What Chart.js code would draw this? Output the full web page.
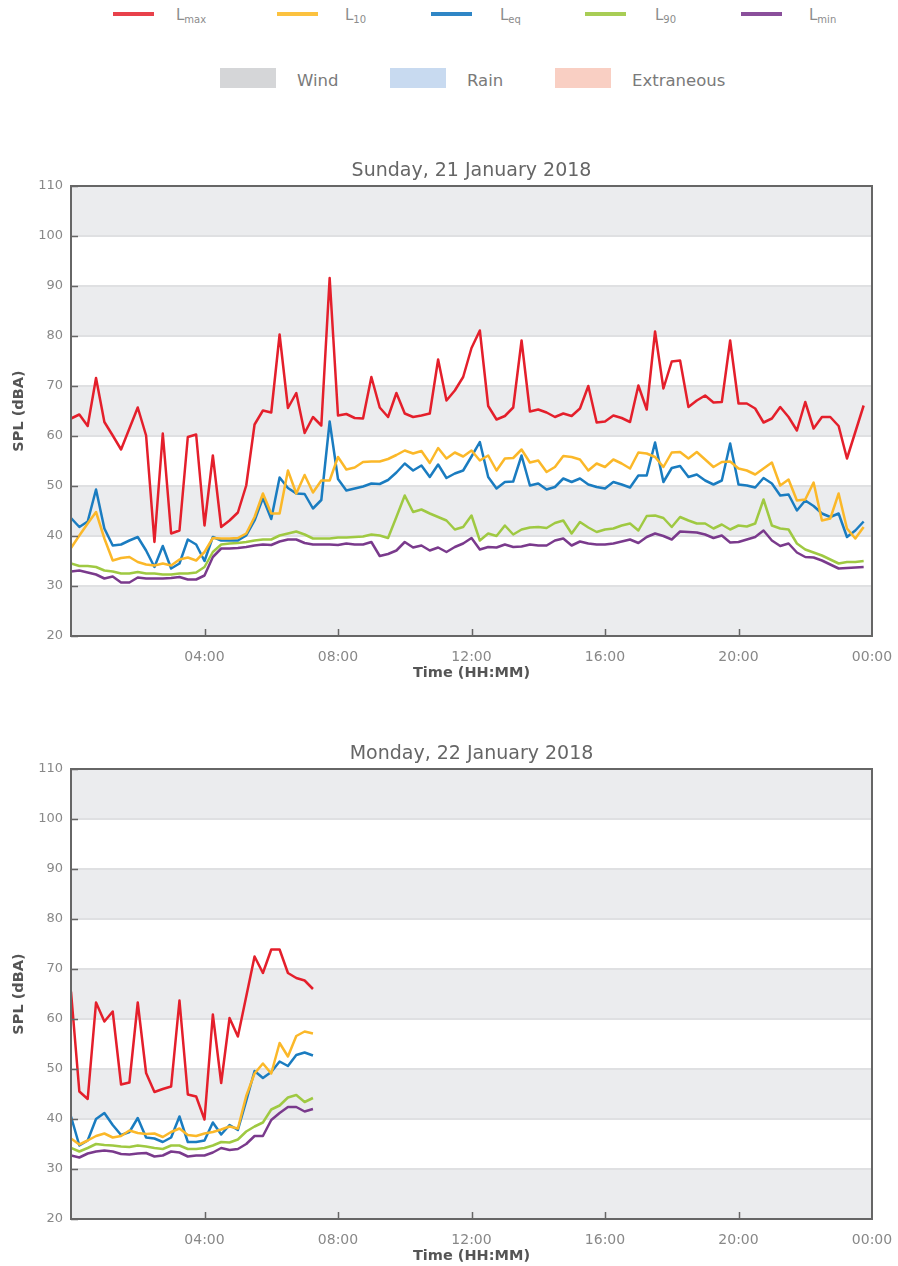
<!DOCTYPE html>
<html>
<head>
<meta charset="utf-8">
<script src="https://cdn.jsdelivr.net/npm/chart.js@4/dist/chart.umd.min.js"></script>
<style>
  body { margin: 0; width: 898px; height: 1266px; position: relative; background: #fff; font-family: "DejaVu Sans", sans-serif; overflow: hidden; }
  .leg { position: absolute; color: #8c8c8c; }
  .line { position: absolute; height: 4px; width: 41px; }
  .lbl { position: absolute; font-size: 15px; line-height: 16px; }
  .lbl sub { font-size: 10px; vertical-align: -3px; }
  .box { position: absolute; width: 56px; height: 20px; }
  .boxlbl { position: absolute; font-size: 16.5px; line-height: 18px; color: #7a7a7a; }
  canvas { position: absolute; left: 0; }
</style>
</head>
<body>
<div class="leg">
  <div class="line" style="left:113px;top:12px;background:#e8414b"></div>
  <div class="lbl" style="left:176px;top:7px">L<sub>max</sub></div>
  <div class="line" style="left:277px;top:12px;background:#fcc23f"></div>
  <div class="lbl" style="left:345px;top:7px">L<sub>10</sub></div>
  <div class="line" style="left:431px;top:12px;background:#2f86c6"></div>
  <div class="lbl" style="left:500px;top:7px">L<sub>eq</sub></div>
  <div class="line" style="left:585px;top:12px;background:#a8cd55"></div>
  <div class="lbl" style="left:655px;top:7px">L<sub>90</sub></div>
  <div class="line" style="left:741px;top:12px;background:#8a4f9b"></div>
  <div class="lbl" style="left:809px;top:7px">L<sub>min</sub></div>

  <div class="box" style="left:220px;top:68px;background:#d5d6d8"></div>
  <div class="boxlbl" style="left:297px;top:72px">Wind</div>
  <div class="box" style="left:390px;top:68px;background:#c8daf0"></div>
  <div class="boxlbl" style="left:467px;top:72px">Rain</div>
  <div class="box" style="left:555px;top:68px;background:#f9cfc3"></div>
  <div class="boxlbl" style="left:632px;top:72px">Extraneous</div>
</div>

<canvas id="sun" width="898" height="533" style="top:150px"></canvas>
<canvas id="mon" width="898" height="533" style="top:733px"></canvas>

<script>
// 15-minute intervals, hours from midnight
const STEP_HOURS = 0.25;
const xTicks = [0, 4, 8, 12, 16, 20, 24];
const yTicks = [20, 30, 40, 50, 60, 70, 80, 90, 100, 110];

const sunLmax = [63.5, 64.3, 62, 71.6, 62.8, 60.1, 57.3, 61.5, 65.7, 60.1,
  38.8, 60.5, 40.5, 41.1, 59.8, 60.3, 42.1, 56.1, 41.8, 43.1,
  44.7, 50.1, 62.3, 65.1, 64.7, 80.3, 65.6, 68.6, 60.6, 63.8,
  62.1, 91.6, 64.1, 64.4, 63.6, 63.5, 71.8, 65.7, 63.8, 68.6,
  64.5, 63.8, 64.1, 64.5, 75.3, 67.1, 69.1, 71.8, 77.6, 81.1,
  66, 63.3, 64, 65.7, 79.1, 64.9, 65.3, 64.7, 63.8, 64.5,
  64, 65.5, 70, 62.7, 62.9, 64.1, 63.6, 62.8, 70.1, 65.3,
  80.9, 69.5, 74.9, 75.1, 65.8, 67.1, 68.1, 66.7, 66.8, 79.1,
  66.5, 66.5, 65.5, 62.7, 63.5, 65.8, 63.8, 61.1, 66.8, 61.5,
  63.8, 63.8, 62, 55.5, 60.8, 66.1];
const sunL10 = [37.6, 40.1, 42.5, 44.8, 39.5, 35.1, 35.6, 35.8, 34.8, 34.3,
  34.1, 34.5, 34.1, 35.3, 35.7, 35.1, 36.8, 39.6, 39.5, 39.5,
  39.6, 40.5, 43.8, 48.5, 44.5, 44.5, 53.1, 48.5, 52.2, 48.7,
  51.1, 51.1, 55.8, 53.3, 53.7, 54.8, 54.9, 54.9, 55.4, 56.2,
  57.1, 56.5, 57, 54.6, 57.6, 55.5, 56.7, 55.9, 57.1, 55.1,
  56.1, 53.1, 55.5, 55.6, 57.3, 54.7, 55.1, 52.8, 53.8, 56,
  55.8, 55.3, 53.1, 54.5, 53.8, 55.3, 54.5, 53.5, 56.7, 56.5,
  55.8, 53.8, 56.7, 56.8, 55.5, 56.8, 55.3, 53.8, 54.8, 54.9,
  53.5, 53.1, 52.3, 53.5, 54.7, 50.1, 51.3, 47.1, 47.3, 50.7,
  43.1, 43.5, 48.5, 41.5, 39.5, 41.8];
const sunLeq = [43.6, 41.8, 42.9, 49.3, 41.5, 38.1, 38.3, 39.1, 39.8, 37.1,
  33.8, 38, 33.5, 34.5, 39.3, 38.3, 35, 39.8, 39.1, 39.1,
  39.1, 40.1, 43.1, 47.6, 43.4, 51.7, 49.6, 48.5, 48.4, 45.5,
  47.2, 62.9, 51.4, 49.1, 49.5, 49.9, 50.5, 50.4, 51.2, 52.7,
  54.5, 53.1, 54.1, 51.8, 54.3, 51.6, 52.5, 53.1, 55.9, 58.8,
  51.8, 49.5, 50.8, 50.9, 56.1, 50.1, 50.5, 49.3, 49.8, 51.5,
  50.8, 51.5, 50.3, 49.8, 49.5, 50.8, 50.3, 49.7, 52.1, 52.1,
  58.7, 50.8, 53.6, 54, 51.8, 52.3, 51.1, 50.3, 51.1, 58.5,
  50.3, 50.1, 49.7, 51.6, 50.5, 48.1, 48.3, 45.1, 47.1, 46,
  44.5, 43.8, 44.5, 39.8, 41.1, 42.9];
const sunL90 = [34.5, 34, 34, 33.8, 33.1, 32.9, 32.5, 32.5, 32.8, 32.5,
  32.5, 32.3, 32.3, 32.5, 32.5, 32.7, 33.8, 36.8, 38.3, 38.5,
  38.6, 38.8, 39.1, 39.3, 39.3, 40.1, 40.5, 40.9, 40.3, 39.5,
  39.5, 39.5, 39.7, 39.7, 39.8, 39.9, 40.3, 40.1, 39.6, 43.8,
  48.1, 44.8, 45.3, 44.5, 43.8, 43.1, 41.3, 41.8, 44.1, 39.1,
  40.5, 40, 42.1, 40.3, 41.3, 41.7, 41.8, 41.6, 42.6, 43.1,
  40.5, 42.8, 41.7, 40.8, 41.3, 41.5, 42.1, 42.5, 41.1, 44,
  44.1, 43.6, 41.8, 43.8, 43.1, 42.5, 42.5, 41.5, 42.3, 41.3,
  42.1, 41.9, 42.5, 47.3, 42.1, 41.5, 41.3, 38.5, 37.3, 36.7,
  36.1, 35.3, 34.5, 34.8, 34.8, 35];
const sunLmin = [32.9, 33.1, 32.7, 32.3, 31.5, 31.9, 30.7, 30.7, 31.7, 31.5,
  31.5, 31.5, 31.6, 31.8, 31.3, 31.3, 32.1, 35.8, 37.5, 37.5,
  37.6, 37.8, 38.1, 38.3, 38.2, 38.9, 39.3, 39.3, 38.6, 38.3,
  38.3, 38.3, 38.2, 38.5, 38.3, 38.3, 38.8, 36, 36.4, 37.1,
  38.8, 37.7, 38.1, 37.1, 37.7, 36.8, 37.8, 38.5, 39.6, 37.3,
  37.8, 37.7, 38.3, 37.8, 37.9, 38.3, 38.1, 38.1, 39.1, 39.5,
  38.1, 38.9, 38.5, 38.3, 38.3, 38.5, 38.9, 39.3, 38.6, 39.8,
  40.5, 40, 39.3, 40.9, 40.8, 40.7, 40.3, 39.6, 40.1, 38.7,
  38.8, 39.3, 39.8, 41.1, 39.1, 38, 38.5, 36.7, 35.8, 35.7,
  35.1, 34.3, 33.5, 33.6, 33.7, 33.8];

const monLmax = [65.5, 45.5, 44, 63.3, 59.5, 61.5, 46.9, 47.3, 63.3, 49.2,
  45.4, 46, 46.5, 63.7, 44.9, 44.5, 39.9, 60.9, 47.2, 60.2,
  56.5, 64.5, 72.5, 69.2, 73.9, 73.9, 69.2, 68.2, 67.7, 66];
const monL10 = [36.1, 34.9, 35.7, 36.6, 37.1, 36.3, 36.6, 37.7, 37.2, 37,
  37.1, 36.4, 37.4, 38.1, 36.8, 36.6, 37.1, 37.4, 37.9, 38.5,
  38.1, 44.6, 49.1, 51.1, 49.1, 55.2, 52.5, 56.6, 57.5, 57.1];
const monLeq = [40.5, 34.7, 35.7, 40, 41.2, 38.8, 36.8, 37.4, 40.2, 36.3,
  36.1, 35.4, 36.3, 40.5, 35.4, 35.4, 35.7, 39.3, 36.9, 38.8,
  37.8, 43.6, 49.6, 48.2, 49.4, 51.5, 50.6, 52.8, 53.3, 52.7];
const monL90 = [34.2, 33.5, 34.2, 35, 34.8, 34.7, 34.5, 34.4, 34.7, 34.5,
  34.2, 34, 34.7, 34.7, 34, 34, 34.2, 34.7, 35.4, 35.3,
  35.9, 37.5, 38.5, 39.3, 41.9, 42.7, 44.3, 44.8, 43.4, 44.2];
const monLmin = [32.7, 32.3, 33.1, 33.5, 33.7, 33.5, 33, 32.9, 33.1, 33.2,
  32.5, 32.7, 33.5, 33.3, 32.5, 32.7, 32.7, 33.3, 34.2, 33.8,
  34, 35, 36.6, 36.6, 39.8, 41.2, 42.4, 42.4, 41.5, 42];

const seriesColors = ['#e41f2b', '#fbb829', '#1a7cc0', '#9fc942', '#7a3a8c'];

Chart.defaults.font.family = '"DejaVu Sans", sans-serif';

function toPoints(values) {
  return values.map((v, i) => ({ x: i * STEP_HOURS, y: v }));
}

function fmtTime(h) {
  const hh = h % 24;
  return (hh < 10 ? '0' : '') + hh + ':00';
}

// grey bands, frame, inward tick marks and a title centred on the plot
const framePlugin = {
  id: 'frame',
  beforeDraw(chart) {
    const { ctx, chartArea: a, scales: { y } } = chart;
    ctx.save();
    ctx.fillStyle = '#ebecee';
    for (let v = 20; v < 110; v += 20) {
      const top = y.getPixelForValue(v + 10);
      const bot = y.getPixelForValue(v);
      ctx.fillRect(a.left, top, a.right - a.left, bot - top);
    }
    ctx.restore();
  },
  afterDraw(chart, args, opts) {
    const { ctx, chartArea: a, scales: { x, y } } = chart;
    ctx.save();
    ctx.strokeStyle = '#666';
    ctx.lineWidth = 1.5;
    xTicks.slice(1, -1).forEach(t => {
      const px = Math.round(x.getPixelForValue(t)) + 0.5;
      ctx.beginPath();
      ctx.moveTo(px, a.bottom);
      ctx.lineTo(px, a.bottom - 7);
      ctx.stroke();
    });
    yTicks.forEach(t => {
      const py = Math.round(y.getPixelForValue(t)) + 0.5;
      ctx.beginPath();
      ctx.moveTo(a.left, py);
      ctx.lineTo(a.left + 7, py);
      ctx.stroke();
    });
    ctx.lineWidth = 2;
    ctx.strokeRect(a.left, a.top, a.right - a.left, a.bottom - a.top);

    ctx.fillStyle = '#666';
    ctx.font = '19px "DejaVu Sans", sans-serif';
    ctx.textAlign = 'center';
    ctx.textBaseline = 'middle';
    ctx.fillText(opts.text, (a.left + a.right) / 2, 21);
    ctx.restore();
  }
};

function makeChart(id, title, lmax, l10, leq, l90, lmin) {
  const names = ['Lmax', 'L10', 'Leq', 'L90', 'Lmin'];
  const sets = [lmax, l10, leq, l90, lmin];
  return new Chart(document.getElementById(id), {
    type: 'line',
    data: {
      datasets: sets.map((s, k) => ({
        label: names[k],
        data: toPoints(s),
        borderColor: seriesColors[k],
        backgroundColor: seriesColors[k],
        borderWidth: 2.5,
        borderJoinStyle: 'round',
        pointRadius: 0,
        tension: 0,
        fill: false
      }))
    },
    options: {
      responsive: false,
      animation: false,
      layout: { padding: { left: 0, right: 26, top: 36, bottom: 0 } },
      plugins: {
        legend: { display: false },
        tooltip: { enabled: false },
        title: { display: false },
        frame: { text: title }
      },
      scales: {
        x: {
          type: 'linear',
          min: 0,
          max: 24,
          afterFit: s => { s.height = 47; },
          afterBuildTicks: s => { s.ticks = xTicks.map(v => ({ value: v })); },
          ticks: {
            autoSkip: false,
            maxRotation: 0,
            color: '#888',
            font: { size: 14 },
            padding: 5,
            callback: v => (v === 0 ? '' : fmtTime(v))
          },
          grid: { display: false },
          border: { display: false },
          title: {
            display: true,
            text: 'Time (HH:MM)',
            color: '#555',
            font: { size: 14.5, weight: 'bold' },
            padding: { top: 0, bottom: 1 }
          }
        },
        y: {
          min: 20,
          max: 110,
          afterFit: s => { s.width = 71; },
          afterBuildTicks: s => { s.ticks = yTicks.map(v => ({ value: v })); },
          ticks: {
            color: '#888',
            font: { size: 13 },
            padding: 8
          },
          grid: { color: '#dfe0e2', lineWidth: 2, drawTicks: false },
          border: { display: false },
          title: {
            display: true,
            text: 'SPL (dBA)',
            color: '#555',
            font: { size: 14.5, weight: 'bold' },
            padding: { top: 11, bottom: 0 }
          }
        }
      }
    },
    plugins: [framePlugin]
  });
}

makeChart('sun', 'Sunday, 21 January 2018', sunLmax, sunL10, sunLeq, sunL90, sunLmin);
makeChart('mon', 'Monday, 22 January 2018', monLmax, monL10, monLeq, monL90, monLmin);
</script>
</body>
</html>
